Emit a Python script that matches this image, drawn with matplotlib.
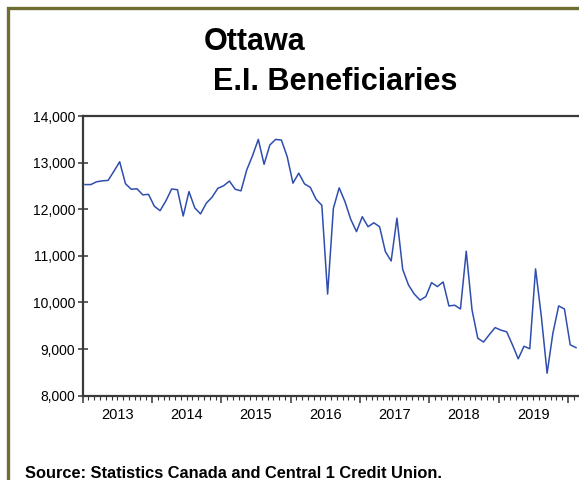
"""Ottawa E.I. beneficiaries, monthly line chart."""

import matplotlib

matplotlib.use("Agg")
import matplotlib.pyplot as plt
import matplotlib.patches as patches
from matplotlib.ticker import FixedLocator, FuncFormatter, MultipleLocator
import numpy as np

# monthly series, first point Jan 2013
start_year = 2013
beneficiaries = [
    12530, 12530, 12590, 12610, 12620, 12815, 13020, 12550, 12430, 12440, 12310, 12320,
    12065, 11970, 12180, 12435, 12420, 11855, 12380, 12030, 11900, 12130, 12260, 12450,
    12505, 12605, 12430, 12395, 12845, 13150, 13500, 12965, 13380, 13500, 13485, 13130,
    12560, 12775, 12545, 12470, 12215, 12085, 10180, 12020, 12460, 12165, 11785, 11520,
    11840, 11625, 11710, 11625, 11090, 10890, 11810, 10710, 10375, 10180, 10050, 10125,
    10425, 10340, 10440, 9925, 9940, 9860, 11100, 9840, 9230, 9150, 9310, 9460,
    9405, 9370, 9090, 8790, 9060, 9005, 10720, 9700, 8480, 9340, 9925, 9860,
    9090, 9030,
]
year_labels = ["2013", "2014", "2015", "2016", "2017", "2018", "2019"]
y_ticks = [8000, 9000, 10000, 11000, 12000, 13000, 14000]

title_1 = "Ottawa"
title_2 = "E.I. Beneficiaries"
source = "Source: Statistics Canada and Central 1 Credit Union."

plt.rcParams["font.family"] = ["Liberation Sans", "DejaVu Sans"]

W, H = 579, 480
fig = plt.figure(figsize=(W / 100, H / 100), dpi=100)

# olive frame, cut off at the right and bottom edges
frame = patches.Rectangle(
    (8 / W, -0.1), 1.2, (H - 8) / H + 0.1,
    transform=fig.transFigure, fill=False, edgecolor="#6e6e30", linewidth=2.4,
)
fig.patches.append(frame)

fig.text(204 / W, 1 - 49.5 / H, title_1, fontsize=22, fontweight="bold", ha="left", va="baseline")
fig.text(213 / W, 1 - 89.5 / H, title_2, fontsize=22, fontweight="bold", ha="left", va="baseline")
fig.text(25 / W, 1 - 478 / H, source, fontsize=11.8, fontweight="bold", ha="left", va="baseline")

# axes run past the right edge of the picture
ax_left, ax_right = 82.7, 588.7
ax_top, ax_bottom = 116.1, 395.6
ax = fig.add_axes([ax_left / W, 1 - ax_bottom / H, (ax_right - ax_left) / W, (ax_bottom - ax_top) / H])

x = start_year + (np.arange(len(beneficiaries)) + 0.4) / 12
ax.plot(x, beneficiaries, color="#2f4eae", linewidth=1.1)

ax.set_xlim(start_year, 2020.3)
ax.set_ylim(y_ticks[0], y_ticks[-1])

ax.xaxis.set_major_locator(MultipleLocator(1))
ax.xaxis.set_minor_locator(MultipleLocator(1 / 12))
ax.xaxis.set_major_formatter(FuncFormatter(lambda v, p: ""))
ax.yaxis.set_major_locator(FixedLocator(y_ticks))
ax.yaxis.set_major_formatter(FuncFormatter(lambda v, p: f"{v:,.0f}"))

for i, lab in enumerate(year_labels):
    ax.text(start_year + i + 0.5, -0.044, lab, transform=ax.get_xaxis_transform(),
            ha="center", va="top", fontsize=10.5)

ax.tick_params(axis="x", which="major", direction="out", length=5, width=1.1, color="#333333")
ax.tick_params(axis="x", which="minor", direction="out", length=3, width=0.8, color="#333333")
ax.tick_params(axis="y", which="major", direction="inout", length=7, width=1.1,
               color="#333333", labelsize=10, pad=2)

for side in ["top", "bottom", "left"]:
    ax.spines[side].set_linewidth(1.6)
    ax.spines[side].set_color("#3a3a3a")
ax.spines["right"].set_visible(False)

fig.savefig("out.png", dpi=100)
